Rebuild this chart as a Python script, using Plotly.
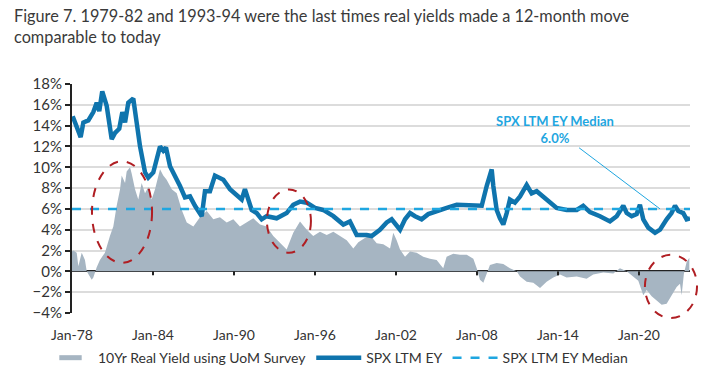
import plotly.graph_objects as go

# ---------------- data ----------------
ey_years = [1978.05, 1978.30, 1978.64, 1978.84, 1979.21, 1979.58, 1979.83, 1980.02, 1980.24, 1980.57,
            1980.94, 1981.19, 1981.50, 1981.73, 1981.93, 1982.17, 1982.54, 1982.79, 1983.04, 1983.41,
            1983.65, 1984.02, 1984.52, 1984.76, 1984.96, 1985.26, 1985.63, 1986.00, 1986.37, 1986.74,
            1987.11, 1987.61, 1987.85, 1988.22, 1988.59, 1989.21, 1989.70, 1990.20, 1990.57, 1990.81,
            1991.06, 1991.31, 1991.68, 1992.05, 1992.42, 1993.16, 1993.90, 1994.39, 1994.89, 1995.39,
            1996.00, 1996.61, 1997.36, 1998.10, 1998.59, 1999.09, 1999.83, 2000.20, 2000.81, 2001.31,
            2001.68, 2002.05, 2002.30, 2002.67, 2003.04, 2003.41, 2003.90, 2004.39, 2005.01, 2005.76,
            2006.50, 2007.24, 2007.98, 2008.35, 2008.72, 2008.84, 2009.09, 2009.21, 2009.46, 2009.70,
            2009.95, 2010.20, 2010.44, 2010.81, 2011.19, 2011.68, 2012.05, 2012.42, 2012.91, 2013.41,
            2013.90, 2014.64, 2015.39, 2015.87, 2016.37, 2017.11, 2017.85, 2018.35, 2018.84, 2019.09,
            2019.46, 2019.83, 2020.07, 2020.32, 2020.69, 2021.19, 2021.56, 2022.05, 2022.41, 2022.67,
            2022.91, 2023.28, 2023.53, 2023.78]
ey_values = [14.9, 14.0, 12.9, 14.3, 14.5, 15.3, 16.2, 15.4, 17.3, 15.9,
             12.7, 13.3, 13.7, 15.3, 14.3, 16.2, 16.6, 14.3, 12.0, 9.5,
             9.0, 9.5, 12.0, 11.6, 11.9, 10.1, 9.2, 8.2, 7.1, 7.2,
             6.3, 5.3, 7.7, 7.7, 9.2, 8.8, 7.9, 7.4, 6.9, 7.9,
             6.9, 5.9, 5.6, 5.0, 5.3, 5.1, 5.6, 6.4, 6.7, 6.6,
             6.1, 5.9, 5.3, 4.5, 4.8, 3.5, 3.5, 3.4, 4.0, 4.7,
             5.0, 4.3, 4.0, 5.0, 5.6, 5.3, 5.0, 5.5, 5.8, 6.1,
             6.4, 6.4, 6.4, 6.3, 8.2, 8.8, 9.8, 8.2, 5.9, 5.1,
             4.5, 5.6, 6.9, 6.6, 7.2, 8.3, 7.5, 7.7, 7.2, 6.7,
             6.1, 5.9, 5.9, 6.3, 5.7, 5.3, 4.8, 5.3, 6.3, 5.6,
             5.3, 5.5, 6.4, 5.0, 4.2, 3.7, 4.0, 5.0, 5.6, 6.3,
             5.8, 5.6, 5.0, 5.1]

ry_years = [1978.00, 1978.10, 1978.35, 1978.47, 1978.72, 1978.96, 1979.09, 1979.46, 1979.58, 1979.83,
            1980.07, 1980.44, 1980.81, 1981.06, 1981.31, 1981.56, 1981.68, 1981.93, 1982.05, 1982.30,
            1982.42, 1982.67, 1982.91, 1983.16, 1983.41, 1983.65, 1983.90, 1984.15, 1984.52, 1984.76,
            1985.01, 1985.39, 1985.76, 1986.13, 1986.50, 1986.99, 1987.48, 1987.98, 1988.47, 1988.96,
            1989.46, 1989.95, 1990.44, 1990.94, 1991.43, 1991.93, 1992.42, 1992.91, 1993.41, 1993.90,
            1994.39, 1994.89, 1995.39, 1995.87, 1996.37, 1996.87, 1997.36, 1997.85, 1998.35, 1998.84,
            1999.21, 1999.58, 2000.07, 2000.57, 2001.06, 2001.56, 2001.80, 2002.05, 2002.30, 2002.67,
            2003.04, 2003.53, 2004.02, 2004.52, 2005.01, 2005.50, 2005.75, 2006.24, 2006.74, 2007.24,
            2007.73, 2007.98, 2008.22, 2008.47, 2008.72, 2008.96, 2009.46, 2009.95, 2010.44, 2010.94,
            2011.19, 2011.68, 2012.17, 2012.67, 2013.16, 2013.65, 2014.15, 2014.64, 2015.39, 2016.12,
            2016.61, 2017.36, 2018.10, 2018.59, 2019.09, 2019.58, 2019.95, 2020.32, 2020.57, 2020.94,
            2021.31, 2021.68, 2022.05, 2022.41, 2022.79, 2023.04, 2023.16, 2023.33, 2023.53, 2023.73]
ry_values = [1.9, 2.0, 1.8, 0.5, 1.8, 1.1, 0.0, -0.8, -0.6, 0.4,
             1.1, 1.8, 3.4, 4.3, 6.3, 7.9, 9.2, 8.5, 9.6, 10.0,
             9.4, 7.9, 6.9, 8.5, 7.5, 8.1, 6.9, 7.9, 9.8, 9.2,
             8.8, 7.9, 7.5, 5.9, 4.7, 4.3, 5.2, 5.8, 5.0, 5.2,
             4.7, 5.0, 4.3, 4.7, 5.1, 4.5, 4.3, 3.4, 2.7, 2.1,
             3.7, 4.8, 4.0, 3.4, 3.8, 3.5, 3.8, 3.4, 3.0, 2.2,
             2.8, 3.1, 3.5, 2.7, 2.6, 2.2, 3.7, 3.0, 2.1, 1.4,
             1.9, 1.8, 1.4, 1.2, 1.1, 0.3, 1.4, 1.7, 1.6, 1.6,
             1.2, 0.3, -0.8, -1.1, -0.3, 0.6, 0.8, 0.7, 0.3, 0.0,
             -0.5, -1.0, -1.1, -1.6, -1.0, -0.6, -0.3, -0.6, -0.5, -0.7,
             -0.3, -0.1, -0.2, 0.3, 0.0, -0.5, -0.9, -2.3, -1.8, -2.4,
             -2.8, -3.2, -3.1, -2.3, -1.5, -1.2, -2.3, -0.2, 0.9, 1.3]

ey_median = 6.0
tick_years = [1978, 1984, 1990, 1996, 2002, 2008, 2014, 2020]
tick_labels = ["Jan-78", "Jan-84", "Jan-90", "Jan-96", "Jan-02", "Jan-08", "Jan-14", "Jan-20"]

# highlighted periods (year range, value range)
highlight_x = [(1979.48, 1983.93), (1992.44, 1995.70), (2020.44, 2024.30)]
highlight_y = [(0.82, 10.57), (1.79, 7.87), (-4.49, 1.59)]

title_text = ("Figure 7. 1979-82 and 1993-94 were the last times real yields made a 12-month move"
              "<br>comparable to today")

# ---------------- layout constants ----------------
W, H = 705, 374
M = dict(l=72, r=15, t=84, b=61)
X_RANGE = [1978, 2023.78]
Y_RANGE = [-4, 18]
EY_COLOR = "#0f74ad"
MED_COLOR = "#1fa6e0"
AREA_COLOR = "#a6b5c2"
TEXT = "#333333"
AXIS = "#222222"
FONT = "Lato"
PLOT_W = W - M["l"] - M["r"]
PLOT_H = H - M["t"] - M["b"]


def px(v):
    return (v - X_RANGE[0]) / (X_RANGE[1] - X_RANGE[0])


def py(v):
    return (v - Y_RANGE[0]) / (Y_RANGE[1] - Y_RANGE[0])


fig = go.Figure()

fig.add_trace(go.Scatter(
    x=ry_years, y=ry_values, mode="lines", fill="tozeroy",
    line=dict(width=0, color=AREA_COLOR), fillcolor=AREA_COLOR,
    name="10Yr Real Yield using UoM Survey", hoverinfo="skip", showlegend=False))

# legend entry for the area: a flat rectangular swatch
fig.add_trace(go.Scatter(
    x=[None], y=[None], mode="markers",
    marker=dict(symbol="line-ew", size=21, color=AREA_COLOR,
                line=dict(width=8, color=AREA_COLOR)),
    name="10Yr Real Yield using UoM Survey"))

fig.add_trace(go.Scatter(
    x=ey_years, y=ey_values, mode="lines",
    line=dict(width=4.5, color=EY_COLOR),
    name="SPX LTM EY"))

fig.add_trace(go.Scatter(
    x=[X_RANGE[0], ey_years[-1]], y=[ey_median, ey_median], mode="lines",
    line=dict(width=2.5, color=MED_COLOR, dash="dash"),
    name="SPX LTM EY Median"))

# small tick marks hanging from the zero line
tick_len = 4 * (Y_RANGE[1] - Y_RANGE[0]) / PLOT_H
for t in tick_years[1:]:
    fig.add_shape(type="line", xref="x", yref="y", x0=t, x1=t, y0=0, y1=-tick_len,
                  line=dict(color=AXIS, width=2), layer="above")

for (x0, x1), (y0, y1) in zip(highlight_x, highlight_y):
    fig.add_shape(type="circle", xref="paper", yref="paper",
                  x0=px(x0), x1=px(x1), y0=py(y0), y1=py(y1),
                  line=dict(color="#b01e23", width=2, dash="dash"))

fig.add_annotation(
    x=2021.56, y=ey_median, xref="x", yref="y",
    ax=2013.8, ay=13.6, axref="x", ayref="y",
    text="<b>SPX LTM EY Median</b><br><b>6.0%</b>",
    font=dict(family=FONT, size=13, color=MED_COLOR),
    showarrow=True, arrowhead=0, arrowwidth=1, arrowcolor=MED_COLOR,
    standoff=0, startstandoff=0)

# title as a paper annotation
fig.add_annotation(
    x=(12 - M["l"]) / PLOT_W, y=1 + (M["t"] - 4) / PLOT_H, xref="paper", yref="paper",
    xanchor="left", yanchor="top", align="left", showarrow=False,
    text=title_text, font=dict(family=FONT, size=16.3, color="#3a3a3a"))

fig.update_layout(
    width=W, height=H,
    margin=dict(**M, autoexpand=False),
    paper_bgcolor="white", plot_bgcolor="white",
    font=dict(family=FONT, size=14, color=TEXT),
    xaxis=dict(range=X_RANGE, tickvals=tick_years, ticktext=tick_labels,
               showgrid=False, zeroline=False, showline=False, ticks="",
               ticklabelstandoff=12,
               tickfont=dict(size=14, color=TEXT)),
    yaxis=dict(range=Y_RANGE, dtick=2, ticksuffix="%",
               showgrid=True, gridcolor="#dcdcdc", gridwidth=1.5,
               zeroline=True, zerolinecolor=AXIS, zerolinewidth=2,
               showline=True, linecolor=AXIS, linewidth=2,
               ticks="outside", ticklen=5, tickwidth=2, tickcolor=AXIS,
               tickfont=dict(size=15, color=TEXT)),
    legend=dict(orientation="h", x=(43 - M["l"]) / PLOT_W, xanchor="left",
                y=-0.127, yanchor="top",
                font=dict(size=14, color=TEXT), itemwidth=45, tracegroupgap=0),
    showlegend=True,
)

fig.write_html("out.html", config={"displayModeBar": False},
               post_script="document.body.style.margin='0';")
